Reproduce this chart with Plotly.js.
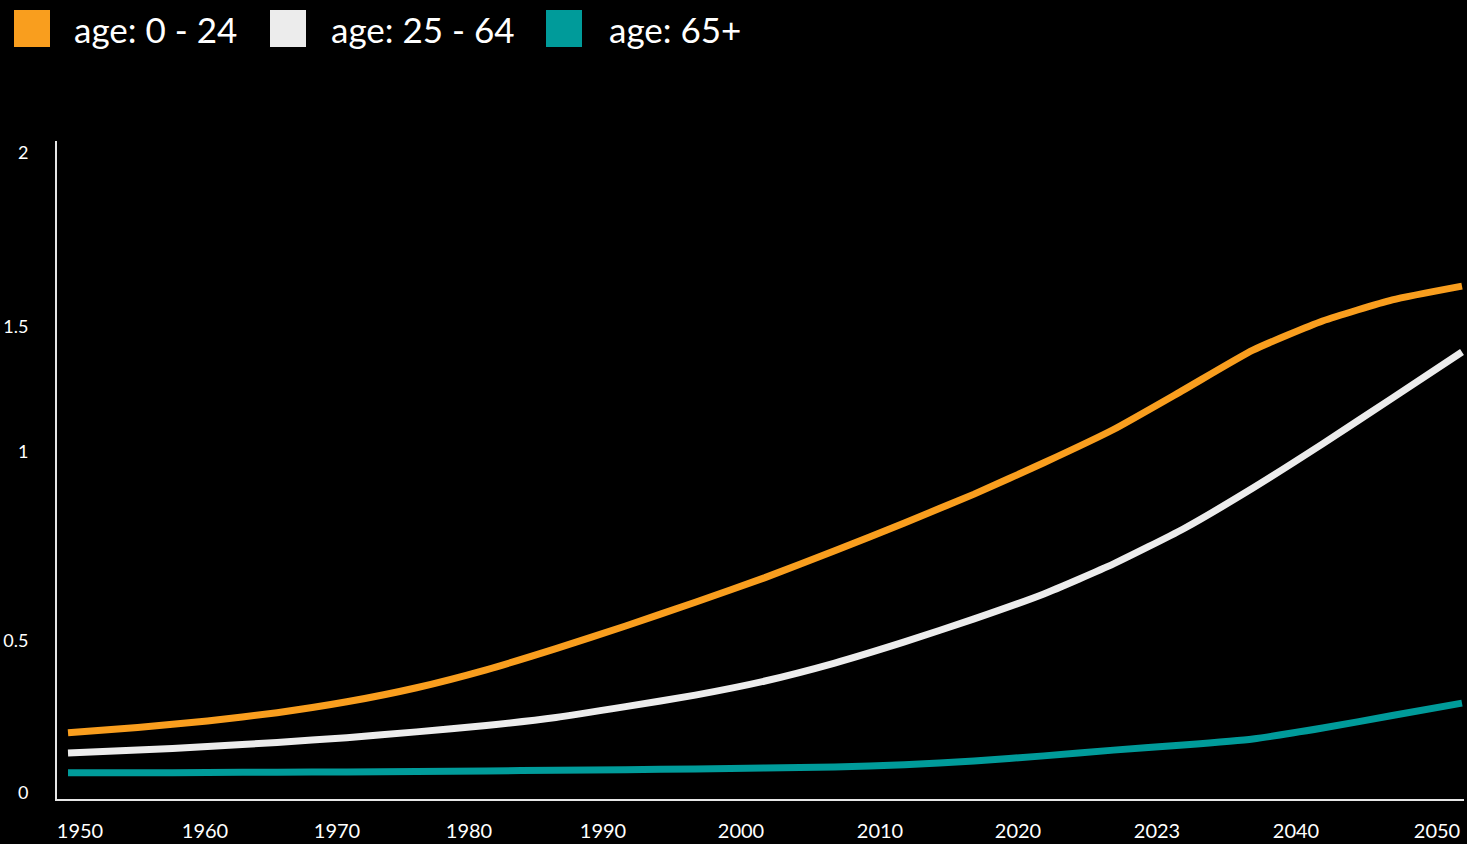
<!DOCTYPE html>
<html>
<head>
<meta charset="utf-8">
<script src="https://cdn.plot.ly/plotly-3.0.1.min.js"></script>
<style>
  html, body { margin: 0; padding: 0; background: #000; }
  #chart { width: 1467px; height: 844px; }
</style>
</head>
<body>
<div id="chart"></div>
<script>
// ---- data ----
const years = [1950, 1955, 1960, 1965, 1970, 1975, 1980, 1985, 1990, 1995, 2000,
               2005, 2010, 2015, 2020, 2025, 2030, 2035, 2040, 2045, 2050];
const age0to24 = [0.188, 0.205, 0.225, 0.251, 0.285, 0.329, 0.385, 0.451, 0.522, 0.596, 0.673,
                  0.757, 0.844, 0.934, 1.032, 1.136, 1.259, 1.384, 1.475, 1.541, 1.584];
const age25to64 = [0.125, 0.134, 0.145, 0.158, 0.173, 0.191, 0.211, 0.236, 0.270, 0.306, 0.350,
                   0.406, 0.472, 0.544, 0.622, 0.716, 0.825, 0.953, 1.091, 1.234, 1.378];
const age65plus = [0.063, 0.063, 0.064, 0.065, 0.066, 0.067, 0.069, 0.071, 0.073, 0.075, 0.078,
                   0.081, 0.088, 0.100, 0.116, 0.134, 0.150, 0.169, 0.203, 0.242, 0.281];
const seriesNames = ['age: 0 - 24', 'age: 25 - 64', 'age: 65+'];
const seriesColors = ['#F99E1E', '#ECECEC', '#009B9A'];
const xTickText = ['1950', '1960', '1970', '1980', '1990', '2000', '2010', '2020', '2023', '2040', '2050'];
const yTickVals = [0, 0.475, 1.066, 1.456, 2];
const yTickText = ['0', '0.5', '1', '1.5', '2'];

// ---- layout constants ----
const W = 1467, H = 844;
const M = { l: 57, r: 3, t: 141, b: 45 };
const plotW = W - M.l - M.r, plotH = H - M.t - M.b;
const px2x = p => (p - M.l) / plotW;
const px2y = p => (H - M.b - p) / plotH;
const FONT = 'Lato, "Open Sans", sans-serif';

// x axis: first year sits 11 px inside the plot, last year 2 px before its right edge
const pxPerYear = (plotW - 13) / (years[years.length - 1] - years[0]);
const xRange = [years[0] - 11 / pxPerYear, years[years.length - 1] + 2 / pxPerYear];
// tick label centres (pixels from the left of the page)
const xTickCentres = [80, 205, 337, 469, 603, 741, 880, 1018, 1157, 1296, 1437];
const xTickVals = xTickCentres.map(p => xRange[0] + (p - M.l) / pxPerYear);

const seriesValues = [age0to24, age25to64, age65plus];
const traces = seriesValues.map((vals, i) => ({
  type: 'scatter', mode: 'lines', x: years, y: vals, name: seriesNames[i],
  line: { color: seriesColors[i], width: 7, shape: 'spline', smoothing: 0.5 },
  showlegend: false, hoverinfo: 'skip'
}));

// custom legend (big squares)
const legendSquareLeft = [14, 270, 546];
const legendTextLeft = [72, 329, 607];
const shapes = [], annotations = [];
seriesNames.forEach((n, i) => {
  shapes.push({
    type: 'rect', xref: 'paper', yref: 'paper', layer: 'above',
    x0: px2x(legendSquareLeft[i]), x1: px2x(legendSquareLeft[i] + 36),
    y0: px2y(47), y1: px2y(10),
    fillcolor: seriesColors[i], line: { width: 0 }
  });
  annotations.push({
    xref: 'paper', yref: 'paper', x: px2x(legendTextLeft[i]), y: px2y(29),
    xanchor: 'left', yanchor: 'middle', showarrow: false, text: n,
    font: { family: FONT, size: 35, color: '#ffffff' }
  });
});

const layout = {
  width: W, height: H,
  margin: M,
  paper_bgcolor: '#000', plot_bgcolor: '#000',
  showlegend: false,
  font: { family: FONT, color: '#ffffff' },
  xaxis: {
    range: xRange,
    tickvals: xTickVals, ticktext: xTickText,
    showgrid: false, zeroline: false, ticks: '',
    showline: true, linecolor: '#e6e6e6', linewidth: 2,
    ticklabelstandoff: 13,
    tickfont: { family: FONT, size: 20, color: '#ffffff' }
  },
  yaxis: {
    range: [-6 / 320, 652 / 320],
    tickvals: yTickVals, ticktext: yTickText,
    showgrid: false, zeroline: false, ticks: '',
    showline: true, linecolor: '#e6e6e6', linewidth: 2,
    ticklabelstandoff: 23,
    tickfont: { family: FONT, size: 18, color: '#ffffff' }
  },
  shapes: shapes,
  annotations: annotations
};

Plotly.newPlot('chart', traces, layout, { displayModeBar: false, staticPlot: true });
</script>
</body>
</html>
